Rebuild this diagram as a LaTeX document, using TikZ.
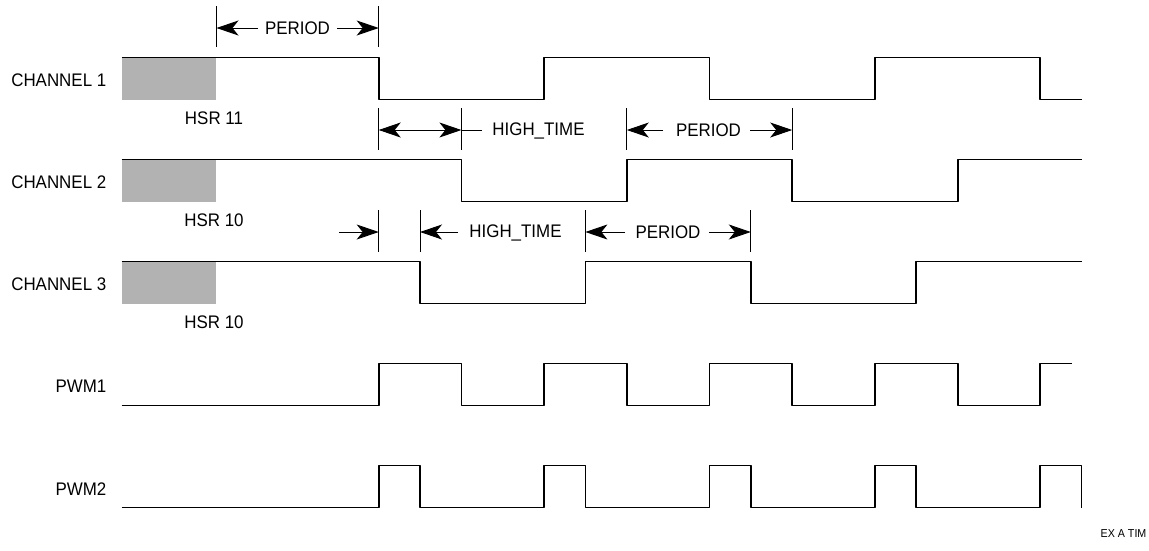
\documentclass[tikz,border=0pt]{standalone}
\usepackage{fontspec}
\setmainfont{Liberation Sans}
\newfontfamily\lblfont[FakeStretch=0.93]{Liberation Sans}
\usetikzlibrary{arrows.meta}
\definecolor{hsrgray}{gray}{0.70}
\begin{document}
\begin{tikzpicture}[x=1pt,y=-1pt,
  wave/.style={line width=1.8pt, line join=round, line cap=butt},
  tick/.style={line width=0.9pt},
  dimarrow/.style={line width=0.9pt, -{Stealth[length=22pt,width=15pt,inset=6pt]}},
  dimboth/.style={line width=0.9pt, {Stealth[length=22pt,width=15pt,inset=6pt]}-{Stealth[length=22pt,width=15pt,inset=6pt]}},
  dimline/.style={line width=0.9pt},
  lbl/.style={font=\lblfont\fontsize{18.2}{21}\selectfont, inner sep=0pt},
  hsrbox/.style={fill=hsrgray, draw=none}]
\useasboundingbox (0,0) rectangle (1149,550);

% gray HSR boxes
\fill[hsrbox] (121.5,57.5) rectangle (216,99.5);
\fill[hsrbox] (121.5,159.5) rectangle (216,201.5);
\fill[hsrbox] (121.5,261.5) rectangle (216,303.5);

% Channel 1
\draw[wave] (121.5,57.5) -- (378.7,57.5) -- (378.7,99.5) -- (544.1,99.5) -- (544.1,57.5)
  -- (709.5,57.5) -- (709.5,99.5) -- (874.9,99.5) -- (874.9,57.5) -- (1040.3,57.5)
  -- (1040.3,99.5) -- (1081.5,99.5);
% Channel 2
\draw[wave] (121.5,159.5) -- (461.4,159.5) -- (461.4,201.5) -- (626.8,201.5) -- (626.8,159.5)
  -- (792.2,159.5) -- (792.2,201.5) -- (957.6,201.5) -- (957.6,159.5) -- (1081.5,159.5);
% Channel 3
\draw[wave] (121.5,261.5) -- (420,261.5) -- (420,303.5) -- (585.4,303.5) -- (585.4,261.5)
  -- (750.8,261.5) -- (750.8,303.5) -- (916.2,303.5) -- (916.2,261.5) -- (1081.5,261.5);
% PWM1
\draw[wave] (121.5,405.5) -- (378.7,405.5) -- (378.7,363.5) -- (461.4,363.5) -- (461.4,405.5)
  -- (544.1,405.5) -- (544.1,363.5) -- (626.8,363.5) -- (626.8,405.5) -- (709.5,405.5)
  -- (709.5,363.5) -- (792.2,363.5) -- (792.2,405.5) -- (874.9,405.5) -- (874.9,363.5)
  -- (957.6,363.5) -- (957.6,405.5) -- (1040.3,405.5) -- (1040.3,363.5) -- (1072,363.5);
% PWM2
\draw[wave] (121.5,507.5) -- (378.7,507.5) -- (378.7,465.5) -- (420,465.5) -- (420,507.5)
  -- (544.1,507.5) -- (544.1,465.5) -- (585.4,465.5) -- (585.4,507.5) -- (709.5,507.5)
  -- (709.5,465.5) -- (750.8,465.5) -- (750.8,507.5) -- (874.9,507.5) -- (874.9,465.5)
  -- (916.2,465.5) -- (916.2,507.5) -- (1040.3,507.5) -- (1040.3,465.5) -- (1081.5,465.5)
  -- (1081.5,507.5);

% signal labels
\node[lbl, anchor=east] (c1) at (106.5,80.7) {CHANNEL 1};
\node[lbl, anchor=east] (c2) at (106.5,182.7) {CHANNEL 2};
\node[lbl, anchor=east] (c3) at (106.5,284.7) {CHANNEL 3};
\node[lbl, anchor=east] (p1) at (106.5,386.7) {PWM1};
\node[lbl, anchor=east] (p2) at (106.5,488.7) {PWM2};
\node[lbl] (h1) at (214,118) {HSR 11};
\node[lbl] (h2) at (214,220) {HSR 10};
\node[lbl] (h3) at (214,322) {HSR 10};
\node[font=\lblfont\fontsize{11.5}{13}\selectfont, inner sep=0pt] (ex) at (1123.5,534) {EX A TIM};

% dimension row 1
\draw[tick] (216.5,6) -- (216.5,47);
\draw[tick] (378.7,6) -- (378.7,47);
\node[lbl] (per1) at (297.5,28.5) {PERIOD};
\coordinate (a1l) at (216.5,28);
\coordinate (a1r) at (378.7,28);
\draw[dimarrow] (258,28) -- (a1l);
\draw[dimarrow] (337,28) -- (a1r);

% dimension row 2
\draw[tick] (378.7,108) -- (378.7,150);
\draw[tick] (461.4,108) -- (461.4,150);
\draw[tick] (626.8,108) -- (626.8,150);
\draw[tick] (792.2,108) -- (792.2,150);
\coordinate (b1) at (378.7,130);
\coordinate (b2) at (461.4,130);
\coordinate (b3) at (626.8,130);
\coordinate (b4) at (792.2,130);
\draw[dimboth] (b1) -- (b2);
\draw[dimline] (b2) -- (482,130);
\node[lbl] (ht2) at (538.5,130.5) {HIGH\_TIME};
\node[lbl] (per2) at (708.5,130.5) {PERIOD};
\draw[dimarrow] (663,130) -- (b3);
\draw[dimarrow] (750,130) -- (b4);

% dimension row 3
\draw[tick] (378.7,210) -- (378.7,252);
\draw[tick] (420,210) -- (420,252);
\draw[tick] (585.4,210) -- (585.4,252);
\draw[tick] (750.8,210) -- (750.8,252);
\coordinate (d1) at (378.7,232);
\coordinate (d2) at (420,232);
\coordinate (d3) at (585.4,232);
\coordinate (d4) at (750.8,232);
\draw[dimarrow] (339,232) -- (d1);
\draw[dimarrow] (458,232) -- (d2);
\node[lbl] (ht3) at (515.5,232.5) {HIGH\_TIME};
\node[lbl] (per3) at (668,232.5) {PERIOD};
\draw[dimarrow] (625,232) -- (d3);
\draw[dimarrow] (709,232) -- (d4);
\end{tikzpicture}
\end{document}
